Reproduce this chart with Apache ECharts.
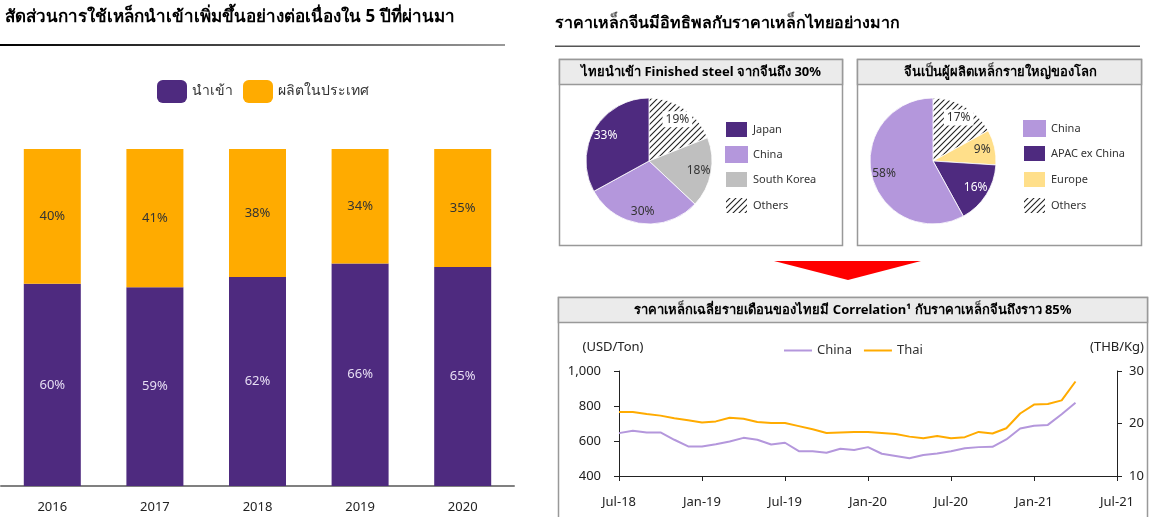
<!DOCTYPE html>
<html>
<head>
<meta charset="utf-8">
<script src="https://cdn.jsdelivr.net/npm/echarts@6/dist/echarts.min.js"></script>
<style>
  html, body { margin: 0; padding: 0; background: #fff; }
  #main { width: 1158px; height: 517px; }
</style>
</head>
<body>
<div id="main"></div>
<script>
// stacked bars (left)
var years = ['2016', '2017', '2018', '2019', '2020'];
var imported = [60, 59, 62, 66, 65];
var domestic = [40, 41, 38, 34, 35];

// pie 1 : Thai finished steel imports by origin
var importNames = ['Others', 'South Korea', 'China', 'Japan'];
var importShare = [19, 18, 30, 33];

// pie 2 : world steel production
var prodNames = ['Others', 'Europe', 'APAC ex China', 'China'];
var prodShare = [17, 9, 16, 58];

// monthly prices
var months = ['Jul-18','Aug-18','Sep-18','Oct-18','Nov-18','Dec-18',
  'Jan-19','Feb-19','Mar-19','Apr-19','May-19','Jun-19',
  'Jul-19','Aug-19','Sep-19','Oct-19','Nov-19','Dec-19',
  'Jan-20','Feb-20','Mar-20','Apr-20','May-20','Jun-20',
  'Jul-20','Aug-20','Sep-20','Oct-20','Nov-20','Dec-20',
  'Jan-21','Feb-21','Mar-21','Apr-21','May-21','Jun-21','Jul-21'];
var chinaPrice = [645, 658, 649, 649, 607, 569, 569, 582, 597, 618, 607, 580,
  590, 542, 542, 533, 556, 548, 565, 527, 514, 501, 520, 529,
  542, 559, 565, 567, 609, 671, 687, 692, 753, 818];
var thaiPrice = [22.2, 22.2, 21.8, 21.5, 21.0, 20.6, 20.2, 20.4, 21.1, 20.9, 20.3, 20.1,
  20.1, 19.5, 18.9, 18.2, 18.3, 18.4, 18.4, 18.2, 18.0, 17.5, 17.2, 17.6,
  17.2, 17.4, 18.4, 18.1, 19.1, 21.9, 23.6, 23.7, 24.4, 28.0];

var PURPLE = '#4e2a7f', ORANGE = '#ffab00', LILAC = '#b497dc',
    GREY = '#bfbfbf', YELLOW = '#ffdf8a';
var FONT = 'Noto Sans, sans-serif';

// hatch pattern for "Others"
var hatch = document.createElement('canvas');
hatch.width = 6; hatch.height = 6;
var hc = hatch.getContext('2d');
hc.fillStyle = '#fff'; hc.fillRect(0, 0, 6, 6);
hc.strokeStyle = '#222'; hc.lineWidth = 1.1;
hc.beginPath();
hc.moveTo(-1, 7); hc.lineTo(7, -1);
hc.moveTo(-1, 1); hc.lineTo(1, -1);
hc.moveTo(5, 7); hc.lineTo(7, 5);
hc.stroke();
var HATCH = { image: hatch, repeat: 'repeat' };

var sliceColor = {
  'Japan': PURPLE, 'China': LILAC, 'South Korea': GREY, 'Others': HATCH,
  'APAC ex China': PURPLE, 'Europe': YELLOW
};
var labelColor = { 'Japan': '#fff', 'APAC ex China': '#fff' };

function pieData(names, vals) {
  return names.map(function (n, i) {
    return { name: n, value: vals[i], itemStyle: { color: sliceColor[n] } };
  });
}
function labelData(names, vals) {
  return names.map(function (n, i) {
    var lab = { color: labelColor[n] || '#333' };
    if (n === 'Others') { lab.backgroundColor = '#fff'; lab.padding = [2, 3]; }
    return { name: n, value: vals[i], label: lab };
  });
}

var myChart = echarts.init(document.getElementById('main'));

var option = {
  animation: false,
  textStyle: { fontFamily: FONT },
  graphic: [
    { type: 'text', left: 5, top: 9, style: { text: 'สัดส่วนการใช้เหล็กนำเข้าเพิ่มขึ้นอย่างต่อเนื่องใน 5 ปีที่ผ่านมา',
        font: 'bold 17px ' + FONT, fill: '#000' } },
    { type: 'rect', shape: { x: 0, y: 44, width: 505, height: 2 },
      style: { fill: new echarts.graphic.LinearGradient(0, 0, 1, 0, [
        { offset: 0, color: '#000' }, { offset: 1, color: '#999' }]) } },
    { type: 'text', left: 555, top: 15, style: { text: 'ราคาเหล็กจีนมีอิทธิพลกับราคาเหล็กไทยอย่างมาก',
        font: 'bold 16px ' + FONT, fill: '#000' } },
    { type: 'rect', shape: { x: 555, y: 45.5, width: 585, height: 1.5 }, style: { fill: '#555' } },

    // box 1
    { type: 'rect', shape: { x: 559.5, y: 59.5, width: 283, height: 186 }, style: { fill: '#fff', stroke: '#999', lineWidth: 1.5 } },
    { type: 'rect', shape: { x: 559.5, y: 59.5, width: 283, height: 25 }, style: { fill: '#ebebeb', stroke: '#999', lineWidth: 1.5 } },
    { type: 'text', x: 701, y: 72, style: { text: 'ไทยนำเข้า Finished steel จากจีนถึง 30%',
        font: 'bold 13px ' + FONT, fill: '#000', align: 'center', verticalAlign: 'middle' } },
    // box 2
    { type: 'rect', shape: { x: 857.5, y: 59.5, width: 284, height: 186 }, style: { fill: '#fff', stroke: '#999', lineWidth: 1.5 } },
    { type: 'rect', shape: { x: 857.5, y: 59.5, width: 284, height: 25 }, style: { fill: '#ebebeb', stroke: '#999', lineWidth: 1.5 } },
    { type: 'text', x: 1000, y: 72, style: { text: 'จีนเป็นผู้ผลิตเหล็กรายใหญ่ของโลก',
        font: 'bold 13px ' + FONT, fill: '#000', align: 'center', verticalAlign: 'middle' } },

    // arrow
    { type: 'polygon', shape: { points: [[774, 261], [921, 261], [848, 280]] }, style: { fill: '#ff0000' } },

    // box 3
    { type: 'rect', shape: { x: 558.5, y: 297.5, width: 589, height: 230 }, style: { fill: '#fff', stroke: '#999', lineWidth: 1.5 } },
    { type: 'rect', shape: { x: 558.5, y: 297.5, width: 589, height: 25 }, style: { fill: '#ebebeb', stroke: '#999', lineWidth: 1.5 } },
    { type: 'text', x: 853, y: 310, style: { text: 'ราคาเหล็กเฉลี่ยรายเดือนของไทยมี Correlation¹ กับราคาเหล็กจีนถึงราว 85%',
        font: 'bold 13px ' + FONT, fill: '#000', align: 'center', verticalAlign: 'middle' } }
  ],
  legend: [
    { data: ['นำเข้า', 'ผลิตในประเทศ'], left: 157, top: 80, padding: 0, itemWidth: 30, itemHeight: 23, itemGap: 10,
      textStyle: { fontSize: 14, color: '#333' } },
    { data: ['Japan', 'China', 'South Korea', 'Others'], orient: 'vertical', left: 724, top: 120, padding: 0,
      icon: 'rect', itemWidth: 23, itemHeight: 17, itemGap: 7, textStyle: { fontSize: 11, color: '#333' } },
    { data: ['China', 'APAC ex China', 'Europe', 'Others'], orient: 'vertical', left: 1022, top: 120, padding: 0,
      icon: 'rect', itemWidth: 23, itemHeight: 17, itemGap: 7, textStyle: { fontSize: 11, color: '#333' } },
    { data: ['China', 'Thai'], left: 784, top: 344, padding: 0, icon: 'rect', itemWidth: 28, itemHeight: 2, itemGap: 12,
      textStyle: { fontSize: 13, color: '#333' } }
  ],
  grid: [
    { left: 1, top: 149, width: 513, height: 337 },
    { left: 619, top: 371, width: 498, height: 105 }
  ],
  xAxis: [
    { type: 'category', gridIndex: 0, data: years,
      axisLine: { lineStyle: { color: '#808080', width: 2 } }, axisTick: { show: false },
      axisLabel: { fontSize: 13, color: '#222', margin: 15 } },
    { type: 'category', gridIndex: 1, data: months, boundaryGap: false,
      axisLine: { lineStyle: { color: '#222' } },
      axisTick: { interval: 5, length: 5, lineStyle: { color: '#222' } },
      axisLabel: { interval: 5, fontSize: 13, color: '#222', margin: 20 } }
  ],
  yAxis: [
    { type: 'value', gridIndex: 0, min: 0, max: 100, show: false },
    { type: 'value', gridIndex: 1, min: 400, max: 1000, interval: 200, position: 'left',
      name: '(USD/Ton)', nameGap: 17, nameTextStyle: { fontSize: 13, color: '#222', padding: [0, 12, 0, 0] },
      axisLine: { show: true, lineStyle: { color: '#222' } },
      axisTick: { show: true, length: 5, lineStyle: { color: '#222' } },
      splitLine: { show: false }, axisLabel: { fontSize: 13, color: '#222', margin: 18 } },
    { type: 'value', gridIndex: 1, min: 10, max: 30, interval: 10, position: 'right',
      name: '(THB/Kg)', nameGap: 17, nameTextStyle: { fontSize: 13, color: '#222', padding: [0, 0, 0, 0] },
      axisLine: { show: true, lineStyle: { color: '#222' } },
      axisTick: { show: true, length: 5, lineStyle: { color: '#222' } },
      splitLine: { show: false }, axisLabel: { fontSize: 13, color: '#222', margin: 12 } }
  ],
  series: [
    { name: 'นำเข้า', type: 'bar', stack: 'share', xAxisIndex: 0, yAxisIndex: 0, barWidth: 57,
      data: imported, itemStyle: { color: PURPLE },
      label: { show: true, position: 'inside', formatter: '{c}%', fontSize: 13, color: '#e6ddf3' } },
    { name: 'ผลิตในประเทศ', type: 'bar', stack: 'share', xAxisIndex: 0, yAxisIndex: 0, barWidth: 57,
      data: domestic, itemStyle: { color: ORANGE },
      label: { show: true, position: 'inside', formatter: '{c}%', fontSize: 13, color: '#333' } },

    { type: 'pie', center: [649, 161], radius: [0, 63], startAngle: 90, clockwise: true,
      data: pieData(importNames, importShare), label: { show: false }, labelLine: { show: false },
      itemStyle: { borderColor: '#fff', borderWidth: 0.8 } },
    { type: 'pie', center: [933, 161], radius: [0, 63], startAngle: 90, clockwise: true,
      data: pieData(prodNames, prodShare), label: { show: false }, labelLine: { show: false },
      itemStyle: { borderColor: '#fff', borderWidth: 0.8 } },

    { name: 'China', type: 'line', xAxisIndex: 1, yAxisIndex: 1, data: chinaPrice,
      showSymbol: false, lineStyle: { color: LILAC, width: 2 }, itemStyle: { color: LILAC } },
    { name: 'Thai', type: 'line', xAxisIndex: 1, yAxisIndex: 2, data: thaiPrice,
      showSymbol: false, lineStyle: { color: ORANGE, width: 2 }, itemStyle: { color: ORANGE } },

    // label rings for the pies
    { type: 'pie', center: [649, 161], radius: [32, 63], startAngle: 90, silent: true,
      data: labelData(importNames, importShare), itemStyle: { color: 'rgba(0,0,0,0)' },
      label: { show: true, position: 'inside', formatter: '{c}%', fontSize: 12 }, labelLine: { show: false },
      emphasis: { disabled: true } },
    { type: 'pie', center: [933, 161], radius: [32, 63], startAngle: 90, silent: true,
      data: labelData(prodNames, prodShare), itemStyle: { color: 'rgba(0,0,0,0)' },
      label: { show: true, position: 'inside', formatter: '{c}%', fontSize: 12 }, labelLine: { show: false },
      emphasis: { disabled: true } }
  ]
};
myChart.setOption(option);
</script>
</body>
</html>
